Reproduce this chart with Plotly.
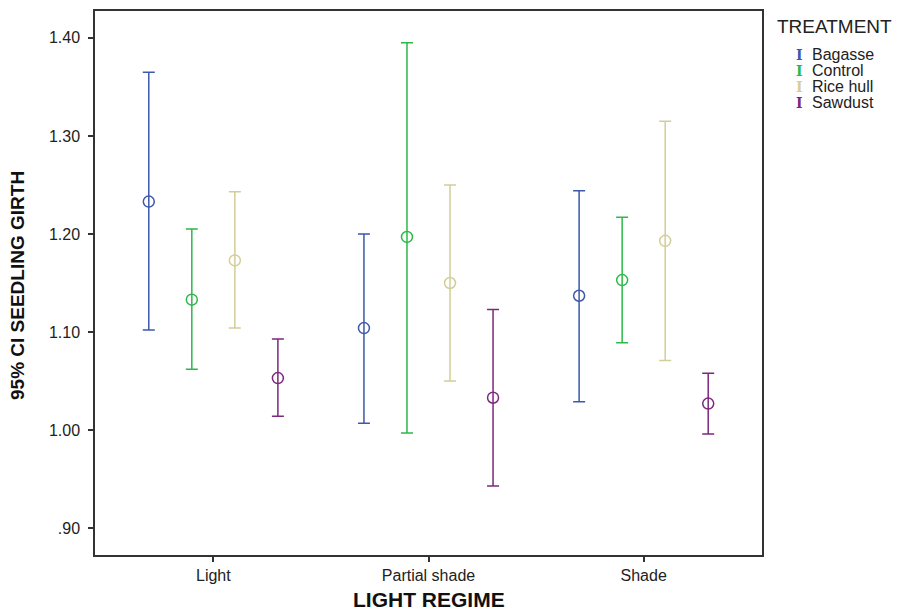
import plotly.graph_objects as go

# ---- data ----
regimes = ["Light", "Partial shade", "Shade"]
treatments = ["Bagasse", "Control", "Rice hull", "Sawdust"]
colors = ["#3E58AC", "#2EB848", "#D3CE97", "#7C287D"]

mean_bagasse = [1.233, 1.104, 1.137]
low_bagasse = [1.102, 1.007, 1.029]
high_bagasse = [1.365, 1.200, 1.244]

mean_control = [1.133, 1.197, 1.153]
low_control = [1.062, 0.997, 1.089]
high_control = [1.205, 1.395, 1.217]

mean_ricehull = [1.173, 1.150, 1.193]
low_ricehull = [1.104, 1.050, 1.071]
high_ricehull = [1.243, 1.250, 1.315]

mean_sawdust = [1.053, 1.033, 1.027]
low_sawdust = [1.014, 0.943, 0.996]
high_sawdust = [1.093, 1.123, 1.058]

y_tickvals = [0.90, 1.00, 1.10, 1.20, 1.30, 1.40]
y_ticktext = [".90", "1.00", "1.10", "1.20", "1.30", "1.40"]

means = [mean_bagasse, mean_control, mean_ricehull, mean_sawdust]
lows = [low_bagasse, low_control, low_ricehull, low_sawdust]
highs = [high_bagasse, high_control, high_ricehull, high_sawdust]

FONT = "Liberation Sans, Arial, sans-serif"
fig = go.Figure()
n = len(treatments)
for i, name in enumerate(treatments):
    off = (i - (n - 1) / 2) * 0.2
    xs = [k + off for k in range(len(regimes))]
    m = means[i]
    fig.add_trace(go.Scatter(
        x=xs, y=m, mode="markers", name=name, showlegend=False,
        marker=dict(symbol="circle-open", size=11, color=colors[i], line=dict(width=1.5, color=colors[i])),
        error_y=dict(type="data", symmetric=False,
                     array=[h - v for h, v in zip(highs[i], m)],
                     arrayminus=[v - l for v, l in zip(m, lows[i])],
                     color=colors[i], thickness=1.5, width=6),
    ))

fig.update_layout(
    width=914, height=613,
    margin=dict(l=95, r=152, t=9, b=58),
    paper_bgcolor="white", plot_bgcolor="white",
    font=dict(family=FONT, color="#222", size=16),
    showlegend=False,
    xaxis=dict(range=[-0.55, 2.55], tickvals=[0, 1, 2], ticktext=regimes,
               showgrid=False, zeroline=False, showline=True, mirror=True,
               linecolor="#333", linewidth=1.5, ticks="outside", ticklen=5,
               tickcolor="#333", tickwidth=1.5, tickfont=dict(size=16, color="#222")),
    yaxis=dict(range=[0.8726, 1.4274], tickvals=y_tickvals, ticktext=y_ticktext,
               showgrid=False, zeroline=False, showline=True, mirror=True,
               linecolor="#333", linewidth=1.5, ticks="outside", ticklen=5,
               tickcolor="#333", tickwidth=1.5, tickfont=dict(size=16, color="#222"),
               ticklabelstandoff=5),
)

ann = []
ann.append(dict(text="<b>LIGHT REGIME</b>", xref="paper", yref="paper", x=0.5, y=(555 - 600) / 546,
                xanchor="center", yanchor="middle", showarrow=False, font=dict(size=21, family=FONT, color="#111")))
ann.append(dict(text="<b>95% CI SEEDLING GIRTH</b>", xref="paper", yref="paper", x=(18 - 95) / 667, y=(555 - 285) / 546,
                xanchor="center", yanchor="middle", textangle=-90, showarrow=False,
                font=dict(size=19, family=FONT, color="#111")))
ann.append(dict(text="TREATMENT", xref="paper", yref="paper", x=(775 - 95) / 667, y=(555 - 25) / 546,
                xanchor="left", yanchor="middle", showarrow=False, font=dict(size=19, family=FONT, color="#222")))
for i, name in enumerate(treatments):
    py = 52.7 + i * 16.2
    yp = (555 - py) / 546
    ann.append(dict(text="<b>I</b>", xref="paper", yref="paper", x=(799 - 95) / 667, y=yp,
                    xanchor="center", yanchor="middle", showarrow=False,
                    font=dict(size=14, family="DejaVu Serif, serif", color=colors[i])))
    ann.append(dict(text=name, xref="paper", yref="paper", x=(810 - 95) / 667, y=yp,
                    xanchor="left", yanchor="middle", showarrow=False,
                    font=dict(size=16, family=FONT, color="#222")))
fig.update_layout(annotations=ann)

fig.write_html("out.html", config={"displayModeBar": False},
               post_script="document.body.style.margin='0';document.body.style.overflow='hidden';")
